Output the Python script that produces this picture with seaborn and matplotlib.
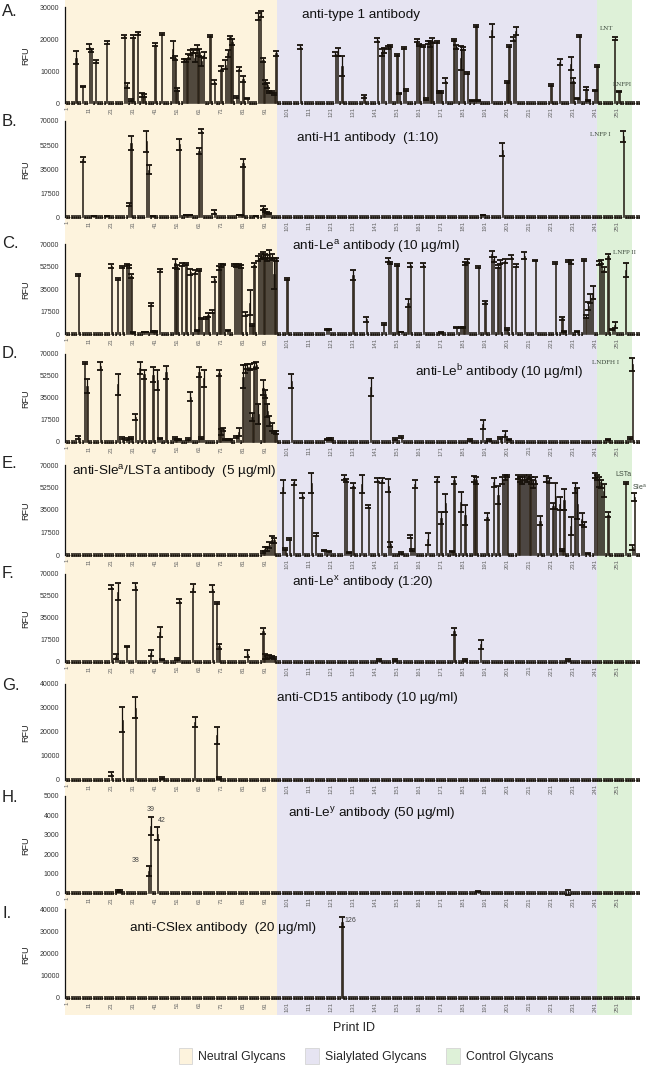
import numpy as np
import pandas as pd
import matplotlib
matplotlib.use("Agg")
import matplotlib.pyplot as plt
import seaborn as sns
from matplotlib.patches import Patch

sns.set_style("white")
plt.rcParams["font.family"] = ["Liberation Sans", "DejaVu Sans"]
plt.rcParams["mathtext.fontset"] = "custom"
plt.rcParams["mathtext.rm"] = "Liberation Sans"
plt.rcParams["mathtext.it"] = "Liberation Sans:italic"

# -----------------------------
# Data (print ID, mean RFU, SD) for the glycans that bind; all others ~0
# -----------------------------
N_IDS = 261
tick_ids = list(range(1, 252, 10))

group_names = ["Neutral Glycans", "Sialylated Glycans", "Control Glycans"]
group_start = [0.0, 96.5, 241.8]
group_end = [96.5, 241.8, 257.7]
group_colors = ["#fdf3dd", "#e6e4f2", "#def1d8"]

A_ids = [5, 8, 11, 12, 14, 19, 27, 28, 30, 31, 33, 35, 36, 41, 44, 49, 50, 51, 54, 55,
         56, 57, 58, 59, 60, 61, 62, 63, 66, 68, 71, 73, 74, 75, 76, 78, 79, 81, 83, 88,
         89, 90, 91, 92, 93, 94, 95, 96, 107, 123, 124, 126, 136, 142, 144, 145, 147, 148, 151, 152,
         154, 155, 160, 161, 163, 164, 165, 166, 167, 169, 170, 171, 173, 177, 178, 180, 181, 183, 185, 187,
         188, 194, 201, 202, 204, 205, 221, 225, 230, 231, 233, 234, 237, 238, 241, 242, 250, 252]
A_rfu = [14200, 5100, 17600, 16500, 13000, 18800, 20800, 5500, 900, 20700, 21800, 2500, 2300, 18200, 21700, 16800, 14000, 4200, 13300, 13300,
         14500, 15800, 16300, 14200, 17300, 15800, 13000, 15000, 21000, 6500, 10700, 12000, 15500, 20500, 19000, 1800, 10500, 7500, 1300, 27000,
         27800, 13500, 6500, 5500, 3500, 3500, 2800, 15500, 17500, 15300, 16000, 11600, 2100, 19600, 15800, 16500, 17300, 17800, 15000, 3000,
         17300, 4200, 19500, 18000, 17800, 1200, 18800, 18500, 19500, 19000, 3500, 3500, 7000, 19600, 17400, 14000, 17000, 9400, 800, 24100,
         800, 22700, 6500, 17800, 20000, 22500, 5600, 12800, 12300, 6900, 1500, 20800, 4500, 800, 3800, 11500, 20100, 3500]
A_sd = [2000, 200, 700, 500, 500, 500, 400, 800, 200, 400, 400, 500, 400, 500, 300, 2600, 600, 400, 500, 500,
        800, 700, 600, 1500, 700, 1200, 1500, 1000, 300, 600, 800, 1500, 1000, 400, 1000, 300, 600, 900, 200, 1000,
        1000, 600, 700, 800, 400, 400, 400, 700, 700, 500, 1300, 3200, 400, 600, 1000, 800, 500, 300, 300, 100,
        300, 300, 500, 300, 400, 300, 500, 1000, 700, 400, 300, 300, 800, 300, 600, 3700, 500, 400, 100, 400,
        100, 2000, 400, 300, 600, 1200, 200, 800, 2000, 800, 200, 300, 500, 100, 200, 400, 500, 100]

B_ids = [8, 13, 19, 29, 30, 37, 38, 40, 52, 55, 56, 57, 61, 62, 68, 79, 80, 81, 87, 90,
         91, 92, 93, 190, 199, 254]
B_rfu = [42100, 800, 700, 8900, 54000, 55200, 34600, 800, 53100, 1500, 1500, 1500, 48000, 62900, 3500, 1500, 1500, 39300, 800, 6700,
         4500, 3500, 2500, 1500, 49200, 58800]
B_sd = [1800, 200, 200, 1200, 4800, 7600, 3300, 200, 3900, 200, 200, 200, 2400, 1600, 1300, 200, 200, 2700, 200, 1500,
        1000, 500, 400, 300, 4800, 4000]

C_ids = [6, 21, 24, 26, 28, 29, 30, 31, 36, 37, 39, 40, 41, 43, 50, 51, 53, 55, 57, 59,
         60, 61, 62, 64, 65, 67, 68, 70, 71, 72, 74, 77, 78, 79, 80, 82, 84, 85, 86, 88,
         89, 90, 91, 92, 93, 94, 95, 96, 101, 119, 120, 131, 137, 145, 147, 148, 151, 153, 156, 157,
         163, 171, 178, 180, 181, 182, 183, 188, 191, 194, 195, 197, 198, 200, 201, 203, 205, 209, 214, 223,
         226, 227, 229, 230, 233, 236, 237, 238, 239, 240, 243, 244, 245, 247, 249, 250, 255]
C_rfu = [46000, 52900, 42600, 52300, 53500, 52500, 45200, 1000, 1500, 1500, 23100, 1800, 1800, 49400, 55100, 52000, 54000, 54500, 48100, 48000,
         3000, 49500, 12000, 12500, 15000, 17500, 42600, 51500, 53000, 54000, 2500, 54000, 53500, 54000, 52500, 15500, 24500, 7000, 54000, 59000,
         60500, 61500, 60000, 59000, 62000, 60000, 47000, 58000, 42600, 3500, 3500, 45900, 11500, 8000, 57500, 55000, 54000, 1500, 24000, 54000,
         53700, 1000, 5000, 5000, 5000, 55000, 57000, 52000, 24700, 62500, 58000, 52500, 56000, 57000, 4000, 60000, 53000, 61000, 57000, 55000,
         12200, 2000, 57000, 56000, 2000, 57500, 13500, 22000, 28000, 32000, 55000, 56000, 50000, 60500, 3500, 7000, 49800]
C_sd = [600, 1300, 700, 700, 900, 900, 1400, 200, 200, 200, 1300, 300, 300, 900, 3500, 1500, 1000, 700, 2200, 1700,
        500, 800, 700, 500, 1500, 800, 2000, 1500, 1200, 700, 500, 800, 1000, 800, 1200, 1800, 10000, 800, 1500, 2000,
        2000, 2500, 2000, 2500, 3000, 2500, 12000, 1500, 700, 400, 500, 3900, 2000, 800, 1500, 800, 800, 300, 3000, 1500,
        1300, 200, 700, 700, 600, 1000, 1500, 1000, 1000, 2300, 2000, 1200, 1500, 1500, 1000, 1500, 1200, 2500, 500, 700,
        1300, 400, 700, 1500, 300, 500, 1300, 3000, 3500, 5000, 1500, 1200, 2000, 2000, 700, 2500, 5200]

D_ids = [6, 9, 10, 16, 24, 26, 28, 30, 32, 34, 36, 40, 42, 43, 46, 50, 51, 52, 56, 57,
         61, 62, 63, 70, 71, 72, 73, 74, 75, 78, 79, 81, 82, 83, 84, 85, 86, 87, 88, 90,
         91, 92, 93, 94, 95, 96, 103, 119, 120, 121, 139, 150, 153, 184, 190, 193, 198, 200, 202, 247,
         257, 258]
D_rfu = [3700, 62800, 44300, 60400, 45800, 3000, 2500, 3000, 20000, 58800, 53700, 53500, 49400, 3000, 55400, 3000, 2000, 2000, 2500, 36000,
         55800, 3000, 50800, 55000, 8000, 10000, 2000, 2000, 2000, 4000, 8000, 52000, 58000, 60000, 59500, 20000, 60500, 61000, 22000, 43000,
         38000, 25000, 17000, 12000, 8000, 7500, 48500, 2000, 2000, 2000, 43700, 2000, 4000, 1500, 14000, 1500, 3000, 6400, 2000, 2000,
         3000, 61700]
D_sd = [1000, 500, 5600, 3000, 8400, 800, 600, 600, 2600, 4500, 3700, 6100, 8000, 500, 5200, 800, 500, 500, 1000, 3500,
        3700, 800, 6700, 2400, 2500, 1500, 400, 400, 400, 800, 3500, 9400, 3000, 2000, 2500, 3000, 2500, 2500, 8000, 6000,
        3000, 5000, 4000, 3000, 1000, 1000, 5700, 500, 800, 800, 7100, 800, 1000, 500, 3400, 500, 800, 2400, 500, 600,
        800, 5000]

E_ids = [90, 91, 92, 93, 94, 95, 99, 100, 102, 104, 108, 112, 114, 118, 120, 127, 128, 129, 131, 135,
         138, 142, 144, 147, 148, 153, 157, 158, 159, 165, 169, 171, 173, 176, 177, 180, 182, 186, 187, 192,
         195, 197, 199, 200, 201, 206, 207, 208, 209, 210, 211, 212, 213, 214, 216, 219, 220, 222, 223, 225,
         226, 227, 230, 232, 233, 235, 236, 238, 241, 242, 243, 244, 245, 247, 255, 258, 259]
E_rfu = [2500, 5000, 4500, 8000, 12000, 11500, 53200, 5000, 12500, 56400, 46000, 55700, 15800, 3500, 2500, 60000, 58000, 2000, 53800, 55100,
         37600, 58000, 58000, 54000, 8500, 1500, 14300, 4000, 55000, 12600, 59000, 29000, 40800, 3000, 58000, 41500, 31000, 59000, 58000, 29800,
         56400, 47000, 58000, 60000, 61500, 60500, 59000, 58000, 60000, 59000, 61000, 58000, 55000, 58000, 26800, 59000, 58000, 38000, 46000, 40000,
         4000, 43000, 22700, 52000, 40000, 28000, 24000, 1000, 62000, 60000, 57000, 55000, 50000, 31500, 56000, 6000, 45000]
E_sd = [800, 1500, 1500, 2500, 2500, 2000, 5200, 800, 600, 2000, 2000, 7800, 1100, 600, 500, 2000, 1500, 300, 1900, 7100,
        1300, 1600, 2000, 5000, 2000, 500, 1300, 800, 3000, 4800, 2000, 4800, 7000, 500, 3000, 7800, 7800, 2500, 2500, 2600,
        3200, 7000, 2500, 2000, 1000, 1500, 2000, 2500, 2000, 2000, 1500, 2500, 3000, 3000, 3500, 2500, 2000, 2500, 10000, 5000,
        800, 8000, 7100, 4000, 12000, 5000, 2000, 300, 2000, 2000, 4000, 3000, 5000, 2000, 500, 2000, 3000]

F_ids = [21, 23, 24, 28, 32, 39, 43, 44, 51, 52, 58, 67, 69, 70, 83, 90, 91, 92, 93, 94,
         95, 143, 150, 177, 182, 189, 229]
F_rfu = [59600, 4000, 56000, 12500, 60200, 6900, 24000, 2000, 2500, 48600, 59000, 58300, 47000, 12400, 6600, 24700, 4000, 3500, 4500, 4000,
         3500, 1500, 1500, 24300, 1500, 14000, 1500]
F_sd = [1700, 2000, 6600, 500, 2900, 2400, 4200, 500, 800, 1300, 3000, 3000, 1000, 2100, 2600, 2200, 2000, 1000, 1000, 800,
        800, 1000, 500, 2600, 500, 3700, 500]

G_ids = [21, 26, 32, 44, 59, 69, 70]
G_rfu = [2400, 25200, 30200, 800, 24300, 18600, 800]
G_sd = [800, 5100, 4500, 300, 2100, 3600, 300]

H_ids = [24, 25, 38, 39, 42, 188, 229]
H_rfu = [100, 100, 1130, 3470, 3050, 80, 50]
H_sd = [30, 30, 240, 470, 340, 30, 130]

I_ids = [126]
I_rfu = [34200]
I_sd = [2300]

# -----------------------------
# Layout (pixel positions in a 648 x 1067 figure)
# -----------------------------
W, H = 648, 1067
AX_LEFT, AX_WIDTH = 65, 576
PAD = 0.02
BAR = "#3a3024"
EDGE = "#17110a"

panels = [
    dict(letter="A.", ids=A_ids, rfu=A_rfu, sd=A_sd, ymax=30000, yt=[0, 10000, 20000, 30000],
         top=7, zero=103, ly=12, title="anti-type 1 antibody", tx=302, ty=15),
    dict(letter="B.", ids=B_ids, rfu=B_rfu, sd=B_sd, ymax=70000, yt=[0, 17500, 35000, 52500, 70000],
         top=121, zero=217, ly=122, title="anti-H1 antibody  (1:10)", tx=297, ty=138),
    dict(letter="C.", ids=C_ids, rfu=C_rfu, sd=C_sd, ymax=70000, yt=[0, 17500, 35000, 52500, 70000],
         top=244, zero=334, ly=243, title="anti-Le$^{\\mathrm{a}}$ antibody (10 µg/ml)", tx=292, ty=247),
    dict(letter="D.", ids=D_ids, rfu=D_rfu, sd=D_sd, ymax=70000, yt=[0, 17500, 35000, 52500, 70000],
         top=354, zero=442, ly=354, title="anti-Le$^{\\mathrm{b}}$ antibody (10 µg/ml)", tx=415, ty=372),
    dict(letter="E.", ids=E_ids, rfu=E_rfu, sd=E_sd, ymax=70000, yt=[0, 17500, 35000, 52500, 70000],
         top=465, zero=555, ly=464, title="anti-Sle$^{\\mathrm{a}}$/LSTa antibody  (5 µg/ml)", tx=72, ty=472),
    dict(letter="F.", ids=F_ids, rfu=F_rfu, sd=F_sd, ymax=70000, yt=[0, 17500, 35000, 52500, 70000],
         top=574, zero=662, ly=574, title="anti-Le$^{\\mathrm{x}}$ antibody (1:20)", tx=292, ty=583),
    dict(letter="G.", ids=G_ids, rfu=G_rfu, sd=G_sd, ymax=40000, yt=[0, 10000, 20000, 30000, 40000],
         top=684, zero=780, ly=686, title="anti-CD15 antibody (10 µg/ml)", tx=277, ty=698),
    dict(letter="H.", ids=H_ids, rfu=H_rfu, sd=H_sd, ymax=5000, yt=[0, 1000, 2000, 3000, 4000, 5000],
         top=796, zero=893, ly=797, title="anti-Le$^{\\mathrm{y}}$ antibody (50 µg/ml)", tx=288, ty=814),
    dict(letter="I.", ids=I_ids, rfu=I_rfu, sd=I_sd, ymax=40000, yt=[0, 10000, 20000, 30000, 40000],
         top=909, zero=998, ly=913, title="anti-CSlex antibody  (20 µg/ml)", tx=130, ty=928),
]

# control glycan labels: (text, x px, y px, family)
control_labels = [
    ("LNT", 600, 28, "Liberation Serif"),
    ("LNFPI", 613, 85, "Liberation Serif"),
    ("LNFP I", 590, 135, "Liberation Serif"),
    ("LNFP II", 613, 253, "Liberation Serif"),
    ("LNDFH I", 592, 363, "Liberation Serif"),
    ("LSTa", 615, 475, "Liberation Sans"),
    ("Sle$^{\\mathrm{a}}$", 632, 487, "Liberation Sans"),
]


def fx(x):
    return x / W


def fy(y):
    return 1 - y / H


fig = plt.figure(figsize=(W / 100, H / 100), dpi=100)

# shaded glycan classes running behind all panels
bg = fig.add_axes([fx(AX_LEFT), fy(1015), AX_WIDTH / W, 1015 / H])
bg.set_xlim(0, 262)
for s, e, c in zip(group_start, group_end, group_colors):
    bg.axvspan(s, e, color=c, lw=0)
bg.axis("off")
bg.set_zorder(0)

print_ids = np.arange(1, N_IDS + 1)

for p in panels:
    span = p["zero"] - p["top"]
    bottom_px = p["zero"] + PAD * span
    ax = fig.add_axes([fx(AX_LEFT), fy(bottom_px), AX_WIDTH / W, span * (1 + PAD) / H])
    ax.set_zorder(2)
    ax.patch.set_alpha(0)

    ymax = p["ymax"]
    rfu = np.zeros(N_IDS)
    sd = np.zeros(N_IDS)
    idx = np.array(p["ids"]) - 1
    rfu[idx] = p["rfu"]
    sd[idx] = p["sd"]
    hit = np.zeros(N_IDS, dtype=bool)
    hit[idx] = True
    df = pd.DataFrame({"print_id": print_ids, "rfu": rfu})

    sns.barplot(data=df, x="print_id", y="rfu", native_scale=True, width=0.6,
                color=BAR, saturation=1, edgecolor=EDGE, linewidth=0.4,
                errorbar=None, ax=ax)
    # SD whiskers of the binders
    ax.errorbar(print_ids[hit], rfu[hit], yerr=sd[hit], fmt="none", ecolor=EDGE,
                elinewidth=0.9, capsize=2.1, capthick=1.3)
    # background spots: short whiskers forming the dotted baseline
    ax.errorbar(print_ids[~hit], rfu[~hit], yerr=0.011 * ymax, fmt="none", ecolor=EDGE,
                elinewidth=0.7, capsize=1.0, capthick=1.1)

    ax.set_xlim(0, 262)
    ax.set_ylim(-PAD * ymax, ymax)
    ax.set_xticks(tick_ids)
    ax.set_xticklabels([str(t) for t in tick_ids], rotation=90, fontsize=4.3, color="#666666")
    ax.set_yticks(p["yt"])
    ax.set_yticklabels([str(t) for t in p["yt"]], fontsize=5, color="#333333")
    ax.tick_params(axis="x", length=0, pad=1.5)
    ax.tick_params(axis="y", length=0, pad=4)
    for side in ["top", "right", "bottom"]:
        ax.spines[side].set_visible(False)
    ax.spines["left"].set_color("#111111")
    ax.spines["left"].set_linewidth(0.9)
    ax.spines["left"].set_bounds(0, ymax)
    ax.set_xlabel("")
    ax.set_ylabel("RFU", fontsize=6.5, color="#222222")
    ax.yaxis.set_label_coords(-35 / AX_WIDTH, 0.5)
    p["ax"] = ax

    fig.text(fx(2), fy(p["ly"]), p["letter"], fontsize=12, color="#222222", va="center", ha="left")
    fig.text(fx(p["tx"]), fy(p["ty"]), p["title"], fontsize=9.7, color="#111111", va="center", ha="left")

for txt, x, y, fam in control_labels:
    fig.text(fx(x), fy(y), txt, fontsize=5, color="#3d4a3d", va="center", ha="left", family=fam)

# peak numbers in panels H and I
axH = panels[7]["ax"]
for pid, dx, dy in [(38, -9, 4), (39, 0, 5), (42, 3, 5)]:
    k = H_ids.index(pid)
    axH.annotate(str(pid), (pid, H_rfu[k] + H_sd[k]), xytext=(dx, dy), textcoords="offset points",
                 fontsize=5, color="#444444", ha="center", va="center")
axI = panels[8]["ax"]
axI.annotate(str(I_ids[0]), (I_ids[0], I_rfu[0] + I_sd[0]), xytext=(6, -3), textcoords="offset points",
             fontsize=5, color="#444444", ha="center", va="center")

fig.text(fx(354), fy(1028), "Print ID", fontsize=9, color="#222222", ha="center", va="center")

handles = [Patch(facecolor=c, edgecolor="#d5d5d5", linewidth=0.6, label=n)
           for n, c in zip(group_names, group_colors)]
fig.legend(handles=handles, loc="center", bbox_to_anchor=(fx(366), fy(1056)), ncol=3,
           frameon=False, fontsize=8.8, handlelength=1.1, handleheight=1.6,
           columnspacing=1.6, handletextpad=0.5)

fig.savefig("out.png", dpi=100)
